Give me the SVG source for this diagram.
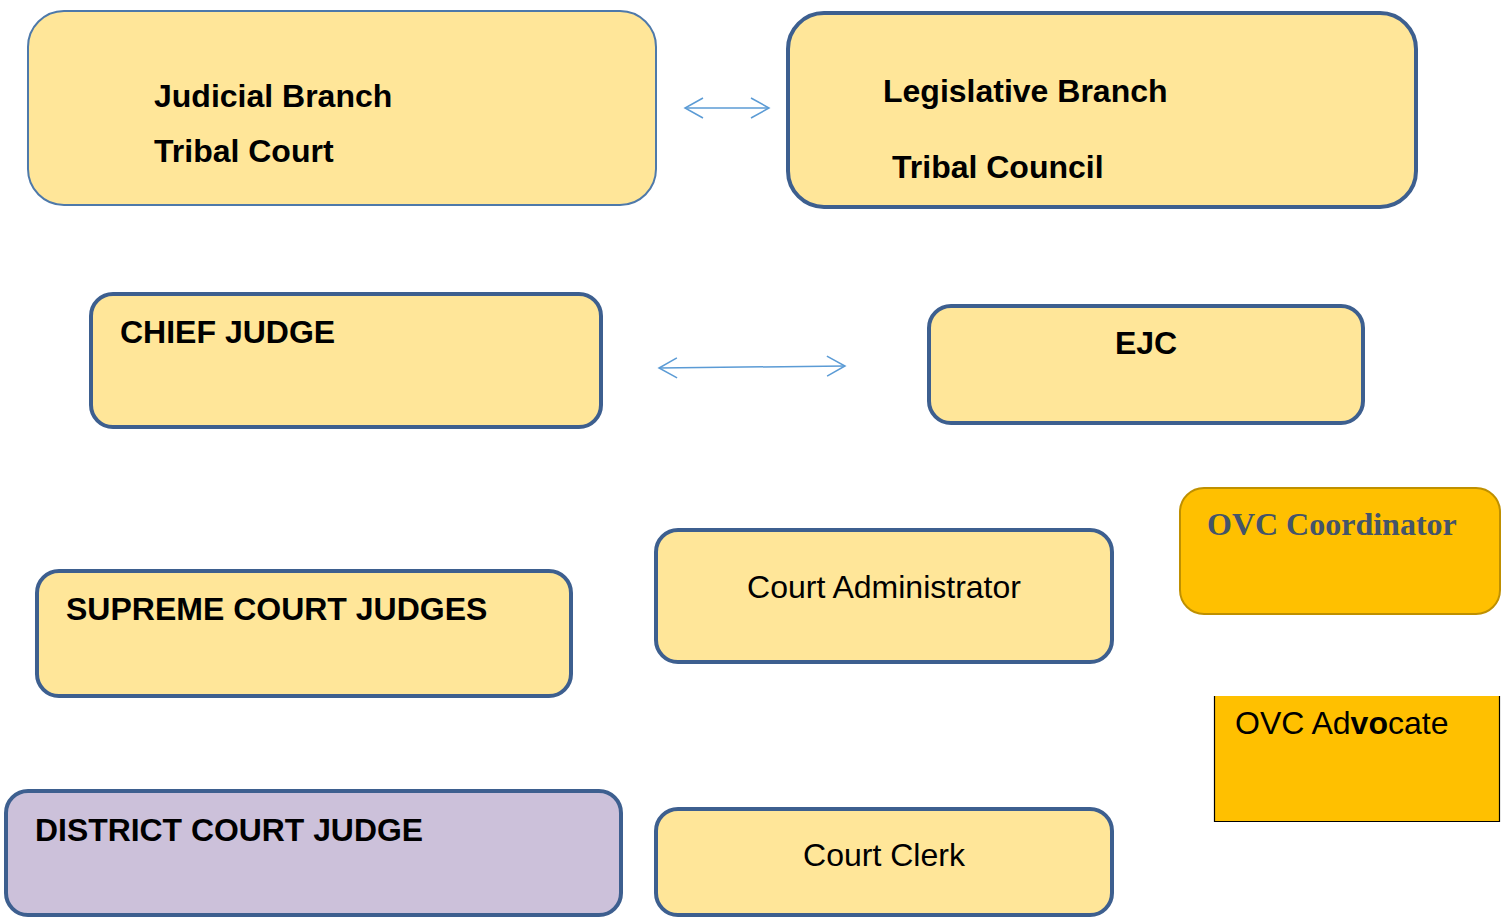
<svg xmlns="http://www.w3.org/2000/svg" width="1507" height="918" viewBox="0 0 1507 918">
<style>
  .box{fill:#FFE699;stroke:#3D5F8F;stroke-width:4}
  .b{font-family:"Liberation Sans",Arial,sans-serif;font-weight:bold;font-size:32px;fill:#000}
  .r{font-family:"Liberation Sans",Arial,sans-serif;font-size:32px;fill:#000}
  .conn{stroke:#5B9BD5;stroke-width:1.5;fill:none}
</style>
<defs>
  <marker id="chev" markerUnits="userSpaceOnUse" viewBox="-1 -1 21 22" markerWidth="21" markerHeight="22" refX="18" refY="10" orient="auto-start-reverse">
    <path d="M0,0 L18,10 L0,20" fill="none" stroke="#5B9BD5" stroke-width="1.5"/>
  </marker>
</defs>
<rect width="1507" height="918" fill="#fff"/>
<g id="judicial">
  <rect x="28" y="11" width="628" height="194" rx="36" fill="#FFE699" stroke="#4E79AA" stroke-width="2"/>
  <text class="b" x="154" y="107">Judicial Branch</text>
  <text class="b" x="154" y="162">Tribal Court</text>
</g>
<g id="legislative">
  <rect class="box" x="788" y="13" width="628" height="194" rx="36"/>
  <text class="b" x="883" y="102">Legislative Branch</text>
  <text class="b" x="892" y="178">Tribal Council</text>
</g>
<g id="chief-judge">
  <rect class="box" x="91" y="294" width="510" height="133" rx="22"/>
  <text class="b" x="120" y="343">CHIEF JUDGE</text>
</g>
<g id="ejc">
  <rect class="box" x="929" y="306" width="434" height="117" rx="22"/>
  <text class="b" x="1146" y="354" text-anchor="middle">EJC</text>
</g>
<g id="supreme">
  <rect class="box" x="37" y="571" width="534" height="125" rx="22"/>
  <text class="b" x="66" y="620">SUPREME COURT JUDGES</text>
</g>
<g id="court-admin">
  <rect class="box" x="656" y="530" width="456" height="132" rx="22"/>
  <text class="r" x="884" y="598" text-anchor="middle">Court Administrator</text>
</g>
<g id="ovc-coordinator">
  <rect x="1180" y="488" width="320" height="126" rx="24" fill="#FFC000" stroke="#BF9000" stroke-width="2"/>
  <text x="1207" y="535" font-family="Liberation Serif,'Times New Roman',serif" font-weight="bold" font-size="32" fill="#44546A">OVC Coordinator</text>
</g>
<g id="ovc-advocate">
  <rect x="1214" y="696" width="286" height="126" fill="#FFC000"/>
  <path d="M1214.5,696 V821.5 H1499.5 V696" fill="none" stroke="#000" stroke-width="1.2"/>
  <text class="r" x="1235" y="734">OVC Ad<tspan font-weight="bold">vo</tspan>cate</text>
</g>
<g id="district">
  <rect x="6" y="791" width="615" height="124" rx="22" fill="#CCC1DA" stroke="#3D5F8F" stroke-width="4"/>
  <text class="b" x="35" y="841" textLength="388" lengthAdjust="spacingAndGlyphs">DISTRICT COURT JUDGE</text>
</g>
<g id="court-clerk">
  <rect class="box" x="656" y="809" width="456" height="106" rx="22"/>
  <text class="r" x="884" y="866" text-anchor="middle">Court Clerk</text>
</g>
<g id="connectors">
  <line class="conn" x1="685" y1="108" x2="769" y2="108" marker-start="url(#chev)" marker-end="url(#chev)"/>
  <line class="conn" x1="659" y1="368" x2="845" y2="366" marker-start="url(#chev)" marker-end="url(#chev)"/>
</g>
</svg>
